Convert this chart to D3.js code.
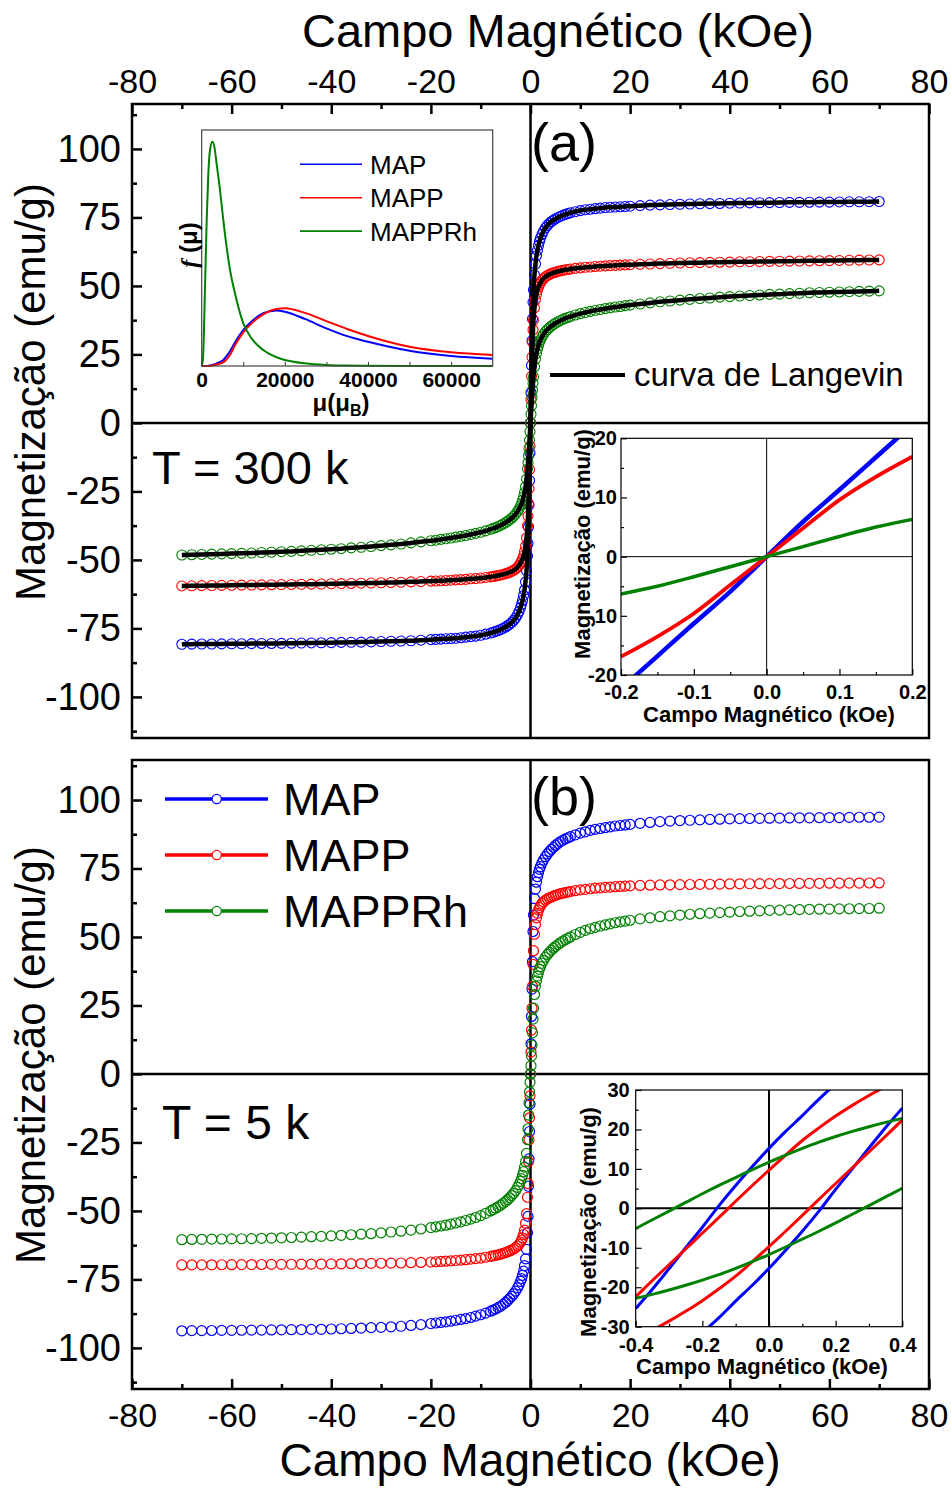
<!DOCTYPE html>
<html>
<head>
<meta charset="utf-8">
<script src="https://cdn.jsdelivr.net/npm/d3@7"></script>
<style>
  body { margin: 0; background: #fff; }
  svg { display: block; }
</style>
</head>
<body>
<svg id="fig" width="951" height="1489"></svg>
<script>
// ---------- measured field grid (kOe) ----------
const fieldPos = [0,0.1,0.2,0.3,0.4,0.5,0.6,0.8,1,1.2,1.4,1.6,1.8,2,2.3,2.6,3,3.4,3.8,4.2,4.6,5,5.5,6,6.5,7,7.5,8,9,10,11,12,13,14,15,16,17,18,19,20,22,24,26,28,30,32,34,36,38,40,42,44,46,48,50,52,54,56,58,60,62,64,66,68,70];
const fieldNeg = [-0.1,-0.2,-0.3,-0.4,-0.5,-0.6,-0.8,-1,-1.2,-1.4,-1.6,-1.8,-2,-2.3,-2.6,-3,-3.4,-3.8,-4.2,-4.6,-5,-5.5,-6,-6.5,-7,-7.5,-8,-9,-10,-11,-12,-13,-14,-15,-16,-17,-18,-19,-20,-22,-24,-26,-28,-30,-32,-34,-36,-38,-40,-42,-44,-46,-48,-50,-52,-54,-56,-58,-60,-62,-64,-66,-68,-70];

// ---------- T = 300 K magnetization (emu/g) ----------
const map300Pos = [0,11,21,30,38,44,48.5,54,58,61,63,64.8,66.2,67.4,68.8,70,71.2,72.1,72.9,73.5,74,74.5,75,75.4,75.8,76.1,76.4,76.7,77.1,77.5,77.8,78,78.2,78.4,78.6,78.7,78.8,78.9,79,79.1,79.3,79.5,79.6,79.7,79.8,79.9,80,80.05,80.1,80.2,80.25,80.3,80.35,80.4,80.45,80.5,80.5,80.55,80.6,80.6,80.65,80.7,80.7,80.75,80.8];
const map300Neg = [-11,-21,-30,-38,-44,-48.5,-54,-58,-61,-63,-64.8,-66.2,-67.4,-68.8,-70,-71.2,-72.1,-72.9,-73.5,-74,-74.5,-75,-75.4,-75.8,-76.1,-76.4,-76.7,-77.1,-77.5,-77.8,-78,-78.2,-78.4,-78.6,-78.7,-78.8,-78.9,-79,-79.1,-79.3,-79.5,-79.6,-79.7,-79.8,-79.9,-80,-80.05,-80.1,-80.2,-80.25,-80.3,-80.35,-80.4,-80.45,-80.5,-80.5,-80.55,-80.6,-80.6,-80.65,-80.7,-80.7,-80.75,-80.8];
const mapp300Pos = [0,8.5,17,24,29.5,34,37.5,42,45,47,48.5,49.6,50.5,51.2,52,52.7,53.3,53.8,54.2,54.5,54.8,55,55.3,55.5,55.7,55.9,56,56.2,56.4,56.6,56.8,56.9,57.1,57.2,57.3,57.4,57.5,57.6,57.7,57.75,57.9,58,58.15,58.25,58.35,58.45,58.5,58.6,58.65,58.7,58.8,58.85,58.9,58.95,59,59.05,59.1,59.15,59.2,59.25,59.3,59.35,59.4,59.45,59.5];
const mapp300Neg = [-8.5,-17,-24,-29.5,-34,-37.5,-42,-45,-47,-48.5,-49.6,-50.5,-51.2,-52,-52.7,-53.3,-53.8,-54.2,-54.5,-54.8,-55,-55.3,-55.5,-55.7,-55.9,-56,-56.2,-56.4,-56.6,-56.8,-56.9,-57.1,-57.2,-57.3,-57.4,-57.5,-57.6,-57.7,-57.75,-57.9,-58,-58.15,-58.25,-58.35,-58.45,-58.5,-58.6,-58.65,-58.7,-58.8,-58.85,-58.9,-58.95,-59,-59.05,-59.1,-59.15,-59.2,-59.25,-59.3,-59.35,-59.4,-59.45,-59.5];
const mapprh300Pos = [0,3.2,6.3,9.3,12,14.5,16.8,20.5,23.3,25.4,27,28.3,29.4,30.3,31.4,32.3,33.3,34.1,34.8,35.4,35.9,36.4,36.9,37.4,37.8,38.2,38.5,38.8,39.4,39.9,40.3,40.7,41.1,41.4,41.7,42,42.3,42.5,42.8,43,43.4,43.8,44.2,44.5,44.8,45.1,45.4,45.6,45.9,46.1,46.3,46.5,46.7,46.9,47,47.2,47.3,47.5,47.6,47.7,47.8,47.9,48,48.1,48.2];
const mapprh300Neg = [-3.2,-6.3,-9.3,-12,-14.5,-16.8,-20.5,-23.3,-25.4,-27,-28.3,-29.4,-30.3,-31.4,-32.3,-33.3,-34.1,-34.8,-35.4,-35.9,-36.4,-36.9,-37.4,-37.8,-38.2,-38.5,-38.8,-39.4,-39.9,-40.3,-40.7,-41.1,-41.4,-41.7,-42,-42.3,-42.5,-42.8,-43,-43.4,-43.8,-44.2,-44.5,-44.8,-45.1,-45.4,-45.6,-45.9,-46.1,-46.3,-46.5,-46.7,-46.9,-47,-47.2,-47.3,-47.5,-47.6,-47.7,-47.8,-47.9,-48,-48.1,-48.2];

// ---------- T = 5 K magnetization (emu/g) ----------
const map5Pos = [0,11,21,31,41,52,58,64,67.5,70,72,73.5,74.7,75.7,77,78.1,79.3,80.3,81.2,82,82.7,83.4,84.1,84.8,85.3,85.8,86.2,86.6,87.3,87.9,88.4,88.9,89.3,89.6,89.9,90.2,90.5,90.7,90.9,91.1,91.5,91.8,92.1,92.3,92.5,92.6,92.75,92.9,93,93.1,93.2,93.25,93.3,93.35,93.4,93.45,93.5,93.5,93.55,93.6,93.6,93.65,93.7,93.7,93.75];
const map5Neg = [-11,-21,-31,-41,-52,-58,-64,-67.5,-70,-72,-73.5,-74.7,-75.7,-77,-78.1,-79.3,-80.3,-81.2,-82,-82.7,-83.4,-84.1,-84.8,-85.3,-85.8,-86.2,-86.6,-87.3,-87.9,-88.4,-88.9,-89.3,-89.6,-89.9,-90.2,-90.5,-90.7,-90.9,-91.1,-91.5,-91.8,-92.1,-92.3,-92.5,-92.6,-92.75,-92.9,-93,-93.1,-93.2,-93.25,-93.3,-93.35,-93.4,-93.45,-93.5,-93.5,-93.55,-93.6,-93.6,-93.65,-93.7,-93.7,-93.75];
const mapp5Pos = [0,8,16,24,32,40,45,51,54.5,57,58.6,59.8,60.7,61.4,62.2,62.8,63.4,63.9,64.3,64.6,64.9,65.2,65.5,65.8,66,66.2,66.4,66.6,66.9,67.2,67.4,67.6,67.8,67.95,68.1,68.2,68.35,68.45,68.55,68.65,68.8,68.9,69,69.05,69.1,69.15,69.2,69.25,69.3,69.35,69.4,69.42,69.45,69.47,69.5,69.52,69.55,69.57,69.6,69.62,69.64,69.66,69.68,69.7,69.72];
const mapp5Neg = [-8,-16,-24,-32,-40,-45,-51,-54.5,-57,-58.6,-59.8,-60.7,-61.4,-62.2,-62.8,-63.4,-63.9,-64.3,-64.6,-64.9,-65.2,-65.5,-65.8,-66,-66.2,-66.4,-66.6,-66.9,-67.2,-67.4,-67.6,-67.8,-67.95,-68.1,-68.2,-68.35,-68.45,-68.55,-68.65,-68.8,-68.9,-69,-69.05,-69.1,-69.15,-69.2,-69.25,-69.3,-69.35,-69.4,-69.42,-69.45,-69.47,-69.5,-69.52,-69.55,-69.57,-69.6,-69.62,-69.64,-69.66,-69.68,-69.7,-69.72];
const mapprh5Pos = [0,3,6.5,10.5,15,20,24,29,32,34,35.7,37,38.2,39.2,40.4,41.4,42.6,43.6,44.4,45.2,45.9,46.5,47.2,47.9,48.5,49,49.5,50,50.9,51.7,52.4,53,53.5,54,54.4,54.8,55.2,55.5,55.8,56.1,56.6,57,57.4,57.7,58,58.3,58.5,58.7,58.9,59.1,59.3,59.4,59.55,59.7,59.8,59.9,60,60.1,60.15,60.2,60.25,60.3,60.35,60.4,60.5];
const mapprh5Neg = [-3,-6.5,-10.5,-15,-20,-24,-29,-32,-34,-35.7,-37,-38.2,-39.2,-40.4,-41.4,-42.6,-43.6,-44.4,-45.2,-45.9,-46.5,-47.2,-47.9,-48.5,-49,-49.5,-50,-50.9,-51.7,-52.4,-53,-53.5,-54,-54.4,-54.8,-55.2,-55.5,-55.8,-56.1,-56.6,-57,-57.4,-57.7,-58,-58.3,-58.5,-58.7,-58.9,-59.1,-59.3,-59.4,-59.55,-59.7,-59.8,-59.9,-60,-60.1,-60.15,-60.2,-60.25,-60.3,-60.35,-60.4,-60.5];

// ---------- low-field detail at 300 K ----------
const lowField300 = [-0.2,-0.15,-0.1,-0.05,0,0.05,0.1,0.15,0.2];
const lowMap300 = [-22.3,-16.8,-11.3,-5.9,0,5.9,11.3,16.8,22.3];
const lowMapp300 = [-16.9,-13.5,-9.6,-4.8,0,4.8,9.6,13.5,16.9];
const lowMapprh300 = [-6.3,-5.0,-3.4,-1.7,0,1.7,3.4,5.0,6.3];

// ---------- hysteresis detail at 5 K (descending / ascending branches) ----------
const loopField = [-0.4,-0.35,-0.3,-0.25,-0.2,-0.15,-0.1,-0.05,0,0.05,0.1,0.15,0.2,0.25,0.3,0.35,0.4];
const loopMapDown = [-25.4,-20.5,-15.3,-10,-4.8,0.7,5.8,10.6,15.2,19.5,23.5,27.7,31.5,35,38.3,41.3,44];
const loopMapUp = [-44,-41.3,-38.3,-35,-31.5,-27.7,-23.5,-19.5,-15.2,-10.6,-5.8,-0.7,4.8,10,15.3,20.5,25.4];
const loopMappDown = [-22.4,-18.3,-14.3,-10.3,-6.3,-2.3,1.8,5.8,9.7,13.5,17.2,20.4,23.4,26.1,28.6,30.9,33];
const loopMappUp = [-33,-30.9,-28.6,-26.1,-23.4,-20.4,-17.2,-13.5,-9.7,-5.8,-1.8,2.3,6.3,10.3,14.3,18.3,22.4];
const loopMapprhDown = [-5.1,-2.9,-0.7,1.5,3.7,5.8,7.8,9.8,11.7,13.5,15.2,16.8,18.2,19.5,20.7,21.8,22.8];
const loopMapprhUp = [-22.8,-21.8,-20.7,-19.5,-18.2,-16.8,-15.2,-13.5,-11.7,-9.8,-7.8,-5.8,-3.7,-1.5,0.7,2.9,5.1];

// ---------- moment distribution f(mu), normalised ----------
const momentMuB = [0,300,800,1200,1600,2000,2560,3040,3600,4400,5200,6000,6800,8000,10000,12000,14800,18000,20000,24800,30000,35000,40000,50000,60000,70000];
const distMap = [0,0,0,0,0.001,0.002,0.004,0.007,0.011,0.018,0.027,0.045,0.066,0.105,0.16,0.198,0.235,0.247,0.242,0.21,0.168,0.133,0.108,0.068,0.0446,0.0327];
const distMapp = [0,0,0,0,0,0.001,0.002,0.004,0.007,0.011,0.016,0.03,0.05,0.092,0.15,0.19,0.23,0.254,0.257,0.237,0.2,0.165,0.134,0.086,0.061,0.049];
const distMapprh = [0,0.03,0.354,0.65,0.86,0.963,1,0.978,0.9,0.785,0.65,0.53,0.43,0.324,0.19,0.123,0.071,0.039,0.027,0.012,0.0045,0.002,0.001,0.0003,0.0001,0];

// ---------- labels / ticks ----------
const sampleNames = ["MAP", "MAPP", "MAPPRh"];
const sampleColors = ["#0000ff", "#ff0000", "#008000"];
const fieldTicks = [-80,-60,-40,-20,0,20,40,60,80];
const fieldMinor = [-70,-50,-30,-10,10,30,50,70];
const magTicks = [-100,-75,-50,-25,0,25,50,75,100];
const magMinor = [-112.5,-87.5,-62.5,-37.5,-12.5,12.5,37.5,62.5,87.5,112.5];
const xTitle = "Campo Magnético (kOe)";
const yTitle = "Magnetização (emu/g)";

const FONT = '"Liberation Sans", Arial, Helvetica, sans-serif';
const svg = d3.select("#fig");

const x = d3.scaleLinear().domain([-80, 80]).range([132, 929]);
const yA = d3.scaleLinear().domain([-115, 116.4]).range([738, 104]);
const yB = d3.scaleLinear().domain([-115, 114.6]).range([1389, 760]);

function pairs(h, m) { return h.map((v, i) => [v, m[i]]); }
function sweep(pos, neg) { return pairs(fieldNeg, neg).reverse().concat(pairs(fieldPos, pos)); }

const panelA = [sweep(map300Pos, map300Neg), sweep(mapp300Pos, mapp300Neg), sweep(mapprh300Pos, mapprh300Neg)];
const panelB = [sweep(map5Pos, map5Neg), sweep(mapp5Pos, mapp5Neg), sweep(mapprh5Pos, mapprh5Neg)];

function styleAxis(g, size, weight) {
  g.attr("font-size", size).attr("font-family", FONT).attr("font-weight", weight || "normal");
  g.select(".domain").remove();
  g.selectAll("text").attr("fill", "#000");
}

function mainPanel(y, series, opts) {
  const [x0, x1] = x.range();
  const [yb, yt] = y.range();
  const g = svg.append("g");

  // y axis, inward ticks
  const ya = g.append("g").attr("transform", `translate(${x0},0)`)
    .call(d3.axisLeft(y).tickValues(magTicks).tickSize(-10).tickPadding(11).tickFormat(d => String(d)));
  styleAxis(ya, 38);
  ya.selectAll("line").attr("stroke-width", 2.5);
  const ym = g.append("g").attr("transform", `translate(${x0},0)`)
    .call(d3.axisLeft(y).tickValues(magMinor).tickSize(-5).tickFormat(""));
  ym.select(".domain").remove();
  ym.selectAll("line").attr("stroke-width", 2.5);

  // x axis on top or bottom
  const ax = opts.top ? d3.axisTop(x) : d3.axisBottom(x);
  const xa = g.append("g").attr("transform", `translate(0,${opts.top ? yt : yb})`)
    .call(ax.tickValues(fieldTicks).tickSize(-10).tickPadding(opts.top ? 11 : 14).tickFormat(d => String(d)));
  styleAxis(xa, 34);
  xa.selectAll("line").attr("stroke-width", 2.5);
  const axm = opts.top ? d3.axisTop(x) : d3.axisBottom(x);
  const xm = g.append("g").attr("transform", `translate(0,${opts.top ? yt : yb})`)
    .call(axm.tickValues(fieldMinor).tickSize(-5).tickFormat(""));
  xm.select(".domain").remove();
  xm.selectAll("line").attr("stroke-width", 2.5);

  // zero lines
  g.append("line").attr("x1", x0).attr("x2", x1).attr("y1", y(0)).attr("y2", y(0))
    .attr("stroke", "#000").attr("stroke-width", 2.5);
  g.append("line").attr("x1", x(0)).attr("x2", x(0)).attr("y1", yt).attr("y2", yb)
    .attr("stroke", "#000").attr("stroke-width", 2.5);

  // frame
  g.append("rect").attr("x", x0).attr("y", yt).attr("width", x1 - x0).attr("height", yb - yt)
    .attr("fill", "none").attr("stroke", "#000").attr("stroke-width", 2.5);

  // data: open circles
  series.forEach((pts, i) => {
    g.append("g").selectAll("circle").data(pts).join("circle")
      .attr("cx", d => x(d[0])).attr("cy", d => y(d[1])).attr("r", opts.r)
      .attr("fill", "none").attr("stroke", sampleColors[i]).attr("stroke-width", opts.sw);
  });

  if (opts.fit) {
    const line = d3.line().x(d => x(d[0])).y(d => y(d[1])).curve(d3.curveMonotoneX);
    series.forEach(pts => {
      g.append("path").attr("d", line(pts)).attr("fill", "none")
        .attr("stroke", "#000").attr("stroke-width", 4.5);
    });
  }

  // y title
  g.append("text").attr("transform", `translate(${opts.yTitleX},${opts.yTitleY}) rotate(-90)`)
    .attr("text-anchor", "middle").attr("font-family", FONT).attr("font-size", 42).text(yTitle);
  return g;
}

mainPanel(yA, panelA, { top: true, r: 5, sw: 1.1, fit: true, yTitleX: 45, yTitleY: 392 });
mainPanel(yB, panelB, { top: false, r: 5, sw: 1.2, fit: false, yTitleX: 45, yTitleY: 1055 });

// outer axis titles
svg.append("text").attr("x", 558).attr("y", 47).attr("text-anchor", "middle")
  .attr("font-family", FONT).attr("font-size", 47).text(xTitle);
svg.append("text").attr("x", 530).attr("y", 1476).attr("text-anchor", "middle")
  .attr("font-family", FONT).attr("font-size", 46).text(xTitle);

// panel annotations
svg.append("text").attr("x", 531).attr("y", 161).attr("font-family", FONT).attr("font-size", 54).text("(a)");
svg.append("text").attr("x", 531).attr("y", 815).attr("font-family", FONT).attr("font-size", 54).text("(b)");
svg.append("text").attr("x", 152).attr("y", 484).attr("font-family", FONT).attr("font-size", 47).text("T = 300 k");
svg.append("text").attr("x", 162).attr("y", 1139).attr("font-family", FONT).attr("font-size", 48).text("T = 5 k");

// fit legend in (a)
svg.append("line").attr("x1", 550).attr("x2", 625).attr("y1", 375).attr("y2", 375)
  .attr("stroke", "#000").attr("stroke-width", 4);
svg.append("text").attr("x", 634).attr("y", 386).attr("font-family", FONT).attr("font-size", 33)
  .text("curva de Langevin");

// sample legend in (b)
const legB = svg.append("g");
sampleNames.forEach((name, i) => {
  const ly = 799 + i * 56;
  legB.append("line").attr("x1", 165).attr("x2", 268).attr("y1", ly).attr("y2", ly)
    .attr("stroke", sampleColors[i]).attr("stroke-width", 3.5);
  legB.append("circle").attr("cx", 216.7).attr("cy", ly).attr("r", 4.6)
    .attr("fill", "#fff").attr("stroke", sampleColors[i]).attr("stroke-width", 1.2);
  legB.append("text").attr("x", 283).attr("y", ly + 15.5).attr("font-family", FONT)
    .attr("font-size", 45).text(name);
});

// ---------- small inset plots ----------
function inset(cfg) {
  const g = svg.append("g");
  const ix = d3.scaleLinear().domain(cfg.xDomain).range(cfg.xRange);
  const iy = d3.scaleLinear().domain(cfg.yDomain).range(cfg.yRange);
  const [l, r] = cfg.xRange, [b, t] = cfg.yRange;
  const clipId = cfg.id + "-clip";
  g.append("clipPath").attr("id", clipId).append("rect")
    .attr("x", l).attr("y", t).attr("width", r - l).attr("height", b - t);

  const xa = g.append("g").attr("transform", `translate(0,${b})`)
    .call(d3.axisBottom(ix).tickValues(cfg.xTicks).tickSize(-6).tickPadding(cfg.xPad).tickFormat(d => d.toFixed(1)));
  styleAxis(xa, 20, "bold");
  const xm = g.append("g").attr("transform", `translate(0,${b})`)
    .call(d3.axisBottom(ix).tickValues(cfg.xMinor).tickSize(-3).tickFormat(""));
  xm.select(".domain").remove();
  const ya = g.append("g").attr("transform", `translate(${l},0)`)
    .call(d3.axisLeft(iy).tickValues(cfg.yTicks).tickSize(-6).tickPadding(cfg.yPad).tickFormat(d => String(d)));
  styleAxis(ya, 20, "bold");
  const ym = g.append("g").attr("transform", `translate(${l},0)`)
    .call(d3.axisLeft(iy).tickValues(cfg.yMinor).tickSize(-3).tickFormat(""));
  ym.select(".domain").remove();
  g.selectAll("line").attr("stroke-width", 1.2);

  g.append("line").attr("x1", l).attr("x2", r).attr("y1", iy(0)).attr("y2", iy(0))
    .attr("stroke", "#000").attr("stroke-width", cfg.zeroW);
  g.append("line").attr("x1", ix(0)).attr("x2", ix(0)).attr("y1", t).attr("y2", b)
    .attr("stroke", "#000").attr("stroke-width", cfg.zeroW);

  const line = d3.line().x(d => ix(d[0])).y(d => iy(d[1])).curve(d3.curveMonotoneX);
  const plot = g.append("g").attr("clip-path", `url(#${clipId})`);
  cfg.curves.forEach(c => {
    plot.append("path").attr("d", line(pairs(c.h, c.m))).attr("fill", "none")
      .attr("stroke", c.color).attr("stroke-width", c.w);
  });

  g.append("rect").attr("x", l).attr("y", t).attr("width", r - l).attr("height", b - t)
    .attr("fill", "none").attr("stroke", "#000").attr("stroke-width", 1.2);

  g.append("text").attr("x", cfg.xTitle[0]).attr("y", cfg.xTitle[1]).attr("text-anchor", "middle")
    .attr("font-family", FONT).attr("font-weight", "bold").attr("font-size", 22).text(xTitle);
  g.append("text").attr("transform", `translate(${cfg.yTitle[0]},${cfg.yTitle[1]}) rotate(-90)`)
    .attr("text-anchor", "middle").attr("font-family", FONT).attr("font-weight", "bold")
    .attr("font-size", 22).text(yTitle);
}

inset({
  id: "low300",
  xDomain: [-0.2, 0.2], xRange: [621, 912.3],
  yDomain: [-20, 20], yRange: [675, 438.3],
  xTicks: [-0.2, -0.1, 0, 0.1, 0.2], xMinor: [-0.15, -0.05, 0.05, 0.15], xPad: 10, yPad: 4,
  yTicks: [-20, -10, 0, 10, 20], yMinor: [-15, -5, 5, 15],
  zeroW: 1,
  xTitle: [769, 722], yTitle: [590, 544],
  curves: [
    { h: lowField300, m: lowMap300, color: sampleColors[0], w: 4.5 },
    { h: lowField300, m: lowMapp300, color: sampleColors[1], w: 3.8 },
    { h: lowField300, m: lowMapprh300, color: sampleColors[2], w: 3.5 }
  ]
});

inset({
  id: "loop5",
  xDomain: [-0.4, 0.4], xRange: [635.7, 902.3],
  yDomain: [-30, 30], yRange: [1326.7, 1090],
  xTicks: [-0.4, -0.2, 0, 0.2, 0.4], xMinor: [-0.3, -0.1, 0.1, 0.3], xPad: 11, yPad: 6,
  yTicks: [-30, -20, -10, 0, 10, 20, 30], yMinor: [-25, -15, -5, 5, 15, 25],
  zeroW: 2,
  xTitle: [762, 1374], yTitle: [596, 1222],
  curves: [
    { h: loopField, m: loopMapDown, color: sampleColors[0], w: 3 },
    { h: loopField, m: loopMapUp, color: sampleColors[0], w: 3 },
    { h: loopField, m: loopMappDown, color: sampleColors[1], w: 3 },
    { h: loopField, m: loopMappUp, color: sampleColors[1], w: 3 },
    { h: loopField, m: loopMapprhDown, color: sampleColors[2], w: 3 },
    { h: loopField, m: loopMapprhUp, color: sampleColors[2], w: 3 }
  ]
});

// ---------- moment distribution inset ----------
(function () {
  const g = svg.append("g");
  const mx = d3.scaleLinear().domain([0, 70000]).range([201.7, 492.7]);
  const my = d3.scaleLinear().domain([0, 1]).range([366, 141.7]);
  const top = 130;
  const xa = g.append("g").attr("transform", "translate(0,366)")
    .call(d3.axisBottom(mx).tickValues([0, 20000, 40000, 60000]).tickSize(-4).tickPadding(6).tickFormat(d => String(d)));
  styleAxis(xa, 21, "bold");
  const xm = g.append("g").attr("transform", "translate(0,366)")
    .call(d3.axisBottom(mx).tickValues([10000, 30000, 50000]).tickSize(-4).tickFormat(""));
  xm.select(".domain").remove();
  g.selectAll("line").attr("stroke", "#333").attr("stroke-width", 1);

  const line = d3.line().x(d => mx(d[0])).y(d => my(d[1])).curve(d3.curveMonotoneX);
  [distMap, distMapp, distMapprh].forEach((vals, i) => {
    g.append("path").attr("d", line(pairs(momentMuB, vals))).attr("fill", "none")
      .attr("stroke", sampleColors[i]).attr("stroke-width", 2);
  });
  g.append("rect").attr("x", 201.7).attr("y", top).attr("width", 291).attr("height", 366 - top)
    .attr("fill", "none").attr("stroke", "#444").attr("stroke-width", 1.2);

  sampleNames.forEach((name, i) => {
    const ly = 164.3 + i * 33.4;
    g.append("line").attr("x1", 300).attr("x2", 362).attr("y1", ly).attr("y2", ly)
      .attr("stroke", sampleColors[i]).attr("stroke-width", 1.6);
    g.append("text").attr("x", 370).attr("y", ly + 9.5).attr("font-family", FONT)
      .attr("font-size", 26).text(name);
  });

  const xt = g.append("text").attr("x", 341).attr("y", 411).attr("text-anchor", "middle")
    .attr("font-family", FONT).attr("font-weight", "bold").attr("font-size", 24);
  xt.append("tspan").text("μ(μ");
  xt.append("tspan").attr("font-size", 16).attr("dy", 5).text("B");
  xt.append("tspan").attr("dy", -5).text(")");

  const yt = g.append("text").attr("transform", "translate(197,245) rotate(-90)")
    .attr("text-anchor", "middle").attr("font-size", 24);
  yt.append("tspan").attr("font-family", '"Liberation Serif", "DejaVu Serif", serif')
    .attr("font-style", "italic").attr("font-weight", "bold").text("f");
  yt.append("tspan").attr("font-family", FONT).attr("font-weight", "bold").text(" (μ)");
})();
</script>
</body>
</html>
